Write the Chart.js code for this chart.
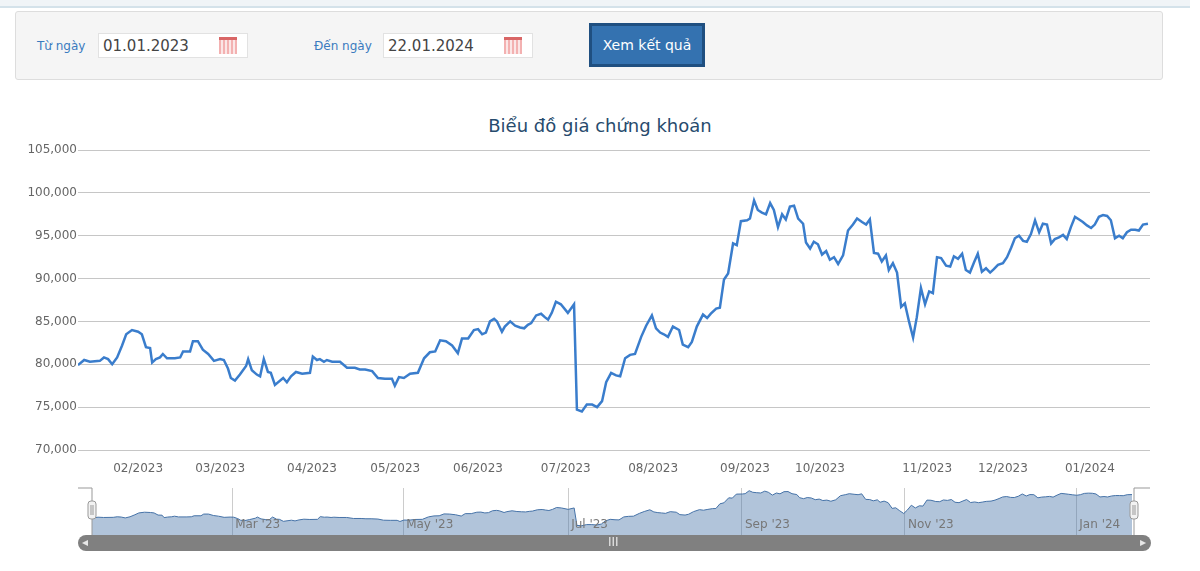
<!DOCTYPE html>
<html>
<head>
<meta charset="utf-8">
<script src="https://cdn.jsdelivr.net/npm/chart.js@4"></script>
<style>
    body { margin: 0; width: 1200px; height: 571px; background: #fff; font-family: "DejaVu Sans", sans-serif; position: relative; overflow: hidden; }
    .strip { position: absolute; left: 0; top: 0; width: 1190px; height: 6px; background: #f0f4f7; border-bottom: 2px solid #d4e2ea; }
    .form { position: absolute; left: 15px; top: 11px; width: 1146px; height: 67px; background: #f5f5f5; border: 1px solid #ddd; border-radius: 3px; }
    .lbl { position: absolute; top: 27px; font-size: 12px; color: #3a7bbf; }
    .inp { position: absolute; top: 21px; width: 150px; height: 25px; background: #fff; border: 1px solid #e2e2e2; font-size: 15px; color: #444; line-height: 25px; padding-left: 4px; box-sizing: border-box; }
    .cal { position: absolute; right: 10px; top: 3px; width: 18px; height: 17px; background: repeating-linear-gradient(90deg, #f3b1b1 0 2px, #fbe6e6 2px 4px); border-top: 3px solid #d96666; box-sizing: border-box; }
    .btn { position: absolute; left: 573px; top: 11px; width: 116px; height: 44px; background: #1f4f80; box-sizing: border-box; padding: 3px; }
    .btn div { width: 100%; height: 100%; background: #3472b0; color: #fff; font-size: 14px; text-align: center; line-height: 38px; }
    .title { position: absolute; left: 0; width: 1200px; top: 115px; text-align: center; font-size: 18px; color: #274b6d; }
    .box { position: absolute; left: 0; width: 1200px; }
</style>
</head>
<body>
<div class="strip"></div>
<div class="form">
    <div class="lbl" style="left:21px">Từ ngày</div>
    <div class="inp" style="left:82px">01.01.2023<div class="cal"></div></div>
    <div class="lbl" style="left:298px">Đến ngày</div>
    <div class="inp" style="left:367px">22.01.2024<div class="cal"></div></div>
    <div class="btn"><div>Xem kết quả</div></div>
</div>
<div class="title">Biểu đồ giá chứng khoán</div>
<div class="box" style="top:100px;height:380px"><canvas id="mainChart"></canvas></div>
<div class="box" style="top:480px;height:91px"><canvas id="navChart"></canvas></div>
<script>
// trading session number of each reading (ordinal axis) and its closing price
const sessions = [
    0, 1.5, 2.9, 5.3, 6.3, 7.3, 8.3, 9.5, 10.7, 11.7, 13.1, 14.6,
    15.5, 16.5, 17.5, 18, 18.9, 19.9, 20.6, 21.6, 23.5, 24.8, 25.5, 27.2, 27.9, 29.1, 30.3, 31.6, 33, 34.5,
    35.4, 36.4, 37.1, 38.1, 39.3, 40.8, 41.3, 42.2, 43.4, 44.2, 45.1, 46.1, 46.8, 47.8, 49.8, 50.7, 51.7, 52.9, 54.4, 56.3, 57,
    58, 58.7, 59.7, 60.4, 61.7, 63.6, 65.3, 67.2, 68.4, 69.7, 71.4, 72.8, 74.5, 76.2, 76.9,
    77.9, 79.1, 80.6, 82.5, 84, 85.4, 86.7, 87.9, 89.3, 90.8, 92.2, 93.2, 94.7, 96.1, 97.1,
    98.1, 99, 100, 101, 101.7, 102.9, 103.6, 104.9, 106.1, 107.3, 108.3, 109.2, 110, 111.2, 112.4, 113.3, 114.1, 115, 116, 117.2, 118.9,
    120.4, 121.1, 122.3, 123.5, 124.8, 126, 127.2, 128.2, 129.4, 130.6, 131.6, 132.8, 134, 135.2, 136.7, 137.9, 139.3,
    140.3, 141.3, 142.2, 143.2, 144.4, 145.9, 146.8, 148.1, 149, 150.2, 151.7, 152.7, 153.6, 154.9, 155.8, 156.8, 157.8, 159, 159.9, 160.9, 162.4,
    163.1, 164.1, 165, 166, 167, 168, 168.9, 169.9, 170.9, 171.8, 172.8, 173.8, 174.8, 176, 176.7, 177.7, 178.6, 179.6, 180.6,
    181.6, 182.5, 183.5, 184.5, 185.7, 186.9, 188.1, 189.1, 190.3, 191.3, 192.2, 193.2, 194.2, 195.1, 196.1, 196.8, 197.8, 198.8, 199.8, 200.7, 201.7, 202.7, 203.6, 204.6, 205.6, 206.6,
    207.5, 208.5, 209.5, 210.7, 211.7, 212.6, 213.6, 214.6, 215.5, 216.5, 217.5, 218.4, 219.4, 220.4, 221.4, 222.3, 223.3, 224.5,
    225.5, 226.5, 227.4, 228.4, 229.4, 230.3, 231.3, 232.3, 233.3, 234.2, 235.2, 236.2, 237.1, 238.1, 239.1, 240, 241, 242, 243, 243.9, 244.9, 245.9,
    246.8, 247.8, 248.8, 249.8, 250.7, 251.7, 252.7, 253.6, 254.6, 255.6, 256.6, 257.5, 258.5, 259.7
];
const prices = [
    79900, 80500, 80300, 80400, 80800, 80600, 80000, 80800, 82200, 83500, 84000, 83800,
    83500, 82000, 81900, 80200, 80600, 80800, 81200, 80700, 80700, 80800, 81500, 81500, 82700, 82700, 81700, 81200, 80400, 80600,
    80500, 79500, 78400, 78100, 78800, 79800, 80600, 79300, 78800, 78600, 80600, 79100, 79000, 77600, 78400, 77900, 78600, 79100, 78900, 79000, 80900,
    80500, 80600, 80300, 80500, 80300, 80300, 79600, 79600, 79400, 79400, 79200, 78400, 78300, 78300, 77500,
    78500, 78400, 78900, 79000, 80700, 81400, 81500, 82800, 82700, 82200, 81300, 83000, 83000, 84000, 84100,
    83500, 83700, 85000, 85300, 85000, 83800, 84400, 85000, 84500, 84300, 84200, 84600, 84800, 85700, 85900, 85500, 85200, 86000, 87300, 87000, 86000,
    87000, 74700, 74500, 75300, 75300, 75000, 75700, 77900, 79000, 78700, 78600, 80700, 81100, 81200, 83200, 84500, 85700,
    84200, 83700, 83500, 83200, 84400, 84000, 82300, 82000, 82600, 84400, 85800, 85400, 85900, 86500, 86600, 89900, 90600, 94100, 93900, 96700, 96800,
    97000, 99100, 98000, 97700, 97500, 98800, 98000, 96000, 97500, 96900, 98400, 98500, 97000, 96400, 94200, 93500, 94300, 94000, 92800,
    93200, 92200, 92500, 91700, 92700, 95600, 96300, 97000, 96600, 96300, 96900, 93000, 92900, 92000, 92700, 91000, 91800, 90700, 86700, 87100, 85000, 83100, 85500, 88900, 87000, 88500,
    88300, 92500, 92400, 91500, 91400, 92600, 92300, 92900, 91000, 90700, 91900, 92900, 90800, 91200, 90700, 91100, 91600, 91800,
    92500, 93600, 94700, 95000, 94400, 94300, 95200, 96800, 95400, 96400, 96300, 94100, 94600, 94800, 95100, 94600, 96000, 97200, 96900, 96600, 96200, 95900,
    96300, 97200, 97400, 97300, 96800, 94700, 95000, 94700, 95400, 95700, 95700, 95600, 96300, 96400
];
const monthTicks = [14.6, 34.5, 56.8, 77, 97.1, 118.4, 139.6, 161.9, 180.1, 206.1, 224.5, 245.6];
const monthLabels = ["02/2023", "03/2023", "04/2023", "05/2023", "06/2023", "07/2023", "08/2023", "09/2023", "10/2023", "11/2023", "12/2023", "01/2024"];
const navTicks = [35, 77.7, 118.9, 162.3, 203, 245.8];
const navLabels = ["Mar '23", "May '23", "Jul '23", "Sep '23", "Nov '23", "Jan '24"];
const lastSession = 260.2;

const points = prices.map((p, i) => ({ x: sessions[i], y: p }));

new Chart(document.getElementById("mainChart"), {
    type: "line",
    data: { datasets: [{ data: points, borderColor: "#3a7dcc", borderWidth: 2.5, pointRadius: 0, tension: 0 }] },
    options: {
        responsive: true, maintainAspectRatio: false, animation: false,
        layout: { padding: { top: 50, right: 50, left: 0, bottom: 0 } },
        plugins: { legend: { display: false }, tooltip: { enabled: false } },
        scales: {
            x: {
                type: "linear", min: 0, max: lastSession,
                afterBuildTicks: (axis) => { axis.ticks = monthTicks.map((v) => ({ value: v })); },
                afterFit: (axis) => { axis.height = 30; },
                ticks: { autoSkip: false, maxRotation: 0, color: "#666", font: { size: 12, family: "DejaVu Sans" }, padding: 4,
                    callback: (v) => monthLabels[monthTicks.indexOf(v)] },
                grid: { display: false },
                border: { display: false },
            },
            y: {
                min: 70000, max: 105000,
                afterFit: (axis) => { axis.width = 78; },
                ticks: { stepSize: 5000, color: "#666", font: { size: 12, family: "DejaVu Sans" }, padding: 1,
                    callback: (v) => v.toLocaleString("en-US") },
                grid: { color: "#c6c6c6", drawTicks: false },
                border: { display: false },
            },
        },
    },
});

const navDecor = {
    id: "navDecor",
    afterDraw(chart) {
        const { ctx, chartArea: a, scales } = chart;
        ctx.save();
        ctx.font = "12px DejaVu Sans";
        ctx.fillStyle = "#777";
        ctx.textBaseline = "middle";
        navTicks.forEach((t, i) => ctx.fillText(navLabels[i], scales.x.getPixelForValue(t) + 3, a.bottom - 10));
        // scrollbar
        ctx.fillStyle = "#808080";
        ctx.beginPath();
        ctx.roundRect(78, a.bottom, 1073, 16, 8);
        ctx.fill();
        ctx.fillStyle = "#e8e8e8";
        ctx.fillText("III", 608, a.bottom + 8);
        ctx.fillText("◂", 82, a.bottom + 8);
        ctx.fillText("▸", 1140, a.bottom + 8);
        // outline and handles
        ctx.strokeStyle = "#999";
        ctx.lineWidth = 1;
        ctx.beginPath();
        ctx.moveTo(78, a.top); ctx.lineTo(a.left, a.top); ctx.lineTo(a.left, a.bottom);
        ctx.moveTo(1150, a.top); ctx.lineTo(a.right, a.top); ctx.lineTo(a.right, a.bottom);
        ctx.stroke();
        [a.left, a.right].forEach((hx) => {
            ctx.fillStyle = "#f2f2f2";
            ctx.beginPath();
            ctx.roundRect(hx - 4, a.top + 13, 8, 18, 3);
            ctx.fill(); ctx.stroke();
            ctx.beginPath();
            ctx.moveTo(hx - 1, a.top + 17); ctx.lineTo(hx - 1, a.top + 27);
            ctx.moveTo(hx + 1, a.top + 17); ctx.lineTo(hx + 1, a.top + 27);
            ctx.stroke();
        });
        ctx.restore();
    },
};

new Chart(document.getElementById("navChart"), {
    type: "line",
    data: { datasets: [{ data: points, borderColor: "#4572a7", borderWidth: 1, pointRadius: 0, fill: "origin", backgroundColor: "rgba(69,114,167,0.42)" }] },
    options: {
        responsive: true, maintainAspectRatio: false, animation: false,
        layout: { padding: { top: 8, left: 92, right: 66, bottom: 36 } },
        plugins: { legend: { display: false }, tooltip: { enabled: false } },
        scales: {
            x: {
                type: "linear", min: 0, max: lastSession,
                afterBuildTicks: (axis) => { axis.ticks = navTicks.map((v) => ({ value: v })); },
                ticks: { display: false },
                grid: { color: "#cccccc", drawTicks: false },
                border: { display: false },
            },
            y: { display: false, min: 68000, max: 101000 },
        },
    },
    plugins: [navDecor],
});
</script>
</body>
</html>
